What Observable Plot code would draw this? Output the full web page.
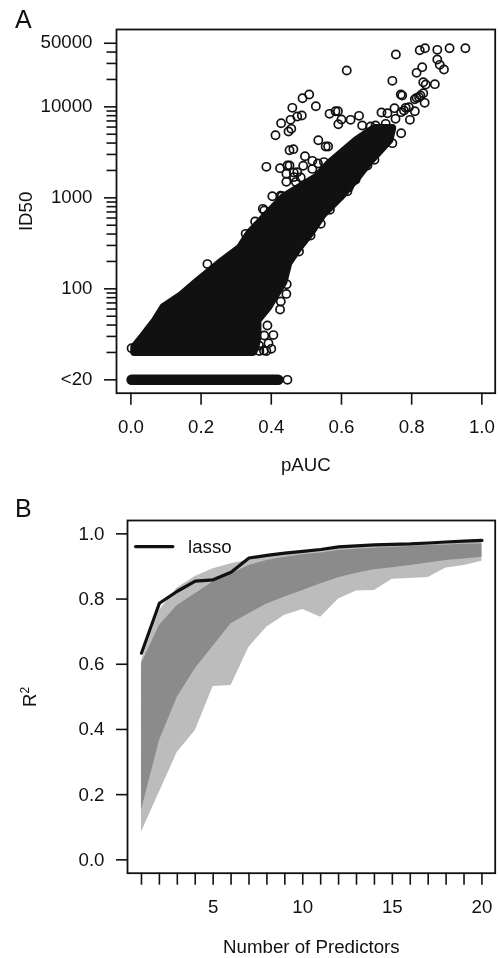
<!DOCTYPE html>
<html><head><meta charset="utf-8">
<script src="https://cdn.jsdelivr.net/npm/d3@7"></script>
<script src="https://cdn.jsdelivr.net/npm/@observablehq/plot@0.6"></script>
<style>
html,body{margin:0;padding:0;background:#fff;}
#page{position:relative;width:498px;height:958px;overflow:hidden;font-family:"Liberation Sans",Arial,sans-serif;color:#111;filter:blur(.35px);}
#page svg{position:absolute;left:0;}
.tag{position:absolute;font-size:25px;line-height:25px;}
</style></head><body>
<div id="page"><div class="tag" style="left:15px;top:7px">A</div><div class="tag" style="left:15px;top:496px">B</div></div>
<script>
// Panel A: individually visible points
const outlierPAUC = [.953,.908,.873,.838,.823,.755,.615,.873,.880,.892,.830,.814,.745,.833,.840,.866,.769,.773,.833,.825,.814,.809,.821,.837,
 .508,.489,.527,.460,.487,.474,.455,.428,.457,.449,.412,.566,.583,.590,.600,.591,.626,.650,.659,.683,.697,.714,.731,.751,.783,.778,.770,.792,.809,.795,.754,.726,.770,.745,
 .534,.555,.562,.452,.463,.496,.517,.550,.386,.425,.446,.452,.491,.443,.474,.517,.443,.465,.470,.403,.376,.380,.430,.354,.327,
 .640,.621,.617,.567,.541,.512,.674,.694,.218,.444,.443,.427,.425,.389,.406,.380,.392,.400,.386,.366,.002,.479,
 .533,.484,.464,.427,.379,.365];
const outlierID50 = [44130,44130,42310,44130,41950,37590,25080,33120,28940,25720,27290,23640,19310,18670,17600,17750,13660,13320,14130,13320,12560,12140,12770,11070,
 13660,12450,10170,9750,8030,7830,7200,6610,5730,5360,4880,8380,8960,8960,7260,6450,7200,7960,6230,6080,6230,8660,8520,9670,9750,9110,8740,9916,8960,7200,7380,6500,5130,3990,
 4300,3670,3670,3340,3430,2870,2550,2470,2190,2120,2270,2270,2250,1840,1910,2080,1500,1690,1490,1040,757,726,1040,549,402,
 1580,1310,1180,738,518,386,2270,2620,187,112.5,88,72.6,59.3,39.5,31,30.7,25.3,21.9,20.7,20.7,22.3,257,
 2382,1672,1897,1059,21,23.8];
// Envelope of the overplotted cloud of points
const cloudID50 = [5774,4262,2382,1672,1008,639,405,277,190,117,84.4,62.3,44.8,29.2,22.6,20];
const cloudLow  = [.695,.644,.567,.530,.436,.387,.339,.311,.254,.188,.145,.094,.071,.034,.011,.011];
const cloudHigh = [.746,.738,.678,.647,.598,.547,.513,.479,.450,.436,.413,.393,.362,.362,.356,.350];
// The "<20" row, drawn at 10
const censoredPAUC = [.002,.420];
const censoredLast = [.446];
const id50Major = [10,100,1000,10000,50000];
const id50Minor = [20,30,40,50,60,70,80,90,200,300,400,500,600,700,800,900,2000,3000,4000,5000,6000,7000,8000,9000,20000,30000,40000];
const pAUCTicks = [0,.2,.4,.6,.8,1];

// Panel B
const predictors = d3.range(1,21);
const lasso    = [.634,.787,.824,.855,.859,.882,.926,.934,.941,.946,.952,.960,.963,.966,.968,.969,.972,.975,.978,.980];
const lightTop = [.610,.765,.834,.869,.893,.908,.920,.932,.940,.945,.950,.957,.960,.963,.965,.966,.968,.970,.972,.975];
const lightLow = [.085,.207,.330,.396,.532,.535,.652,.714,.750,.768,.744,.800,.825,.826,.861,.863,.866,.895,.903,.916];
const darkTop  = [.601,.719,.780,.816,.852,.877,.903,.918,.928,.936,.941,.949,.953,.956,.959,.961,.964,.966,.968,.969];
const darkLow  = [.151,.365,.499,.586,.655,.724,.755,.785,.806,.826,.847,.865,.879,.890,.896,.903,.911,.918,.923,.928];
const predictorTicks = d3.range(1,21);
const r2Ticks = [0,.2,.4,.6,.8,1];

const ink = "#111";
const textSize = 18.7;
const font = {fontFamily:'"Liberation Sans",Arial,sans-serif',fontSize:textSize+"px",background:"none",color:ink};
const axisBits = {tickSize:12,strokeWidth:1.6,stroke:ink,fill:ink,fontSize:textSize};

const outliers = outlierPAUC.map((x,i)=>({x,y:outlierID50[i]}));
const cloud = cloudID50.map((y,i)=>({y,l:cloudLow[i],h:cloudHigh[i]}));

const A = Plot.plot({
  width:498,height:490,marginLeft:116,marginRight:3.3,marginTop:29,marginBottom:97.3,style:font,
  x:{domain:[-.041,1.038],label:null},
  y:{type:"log",domain:[7.13,70800],label:null},
  marks:[
    Plot.areaX(cloud,{y:"y",x1:"l",x2:"h",fill:ink,stroke:ink,strokeWidth:8,strokeLinejoin:"round"}),
    Plot.line(censoredPAUC.map(x=>({x,y:10})),{x:"x",y:"y",stroke:ink,strokeWidth:10.5,strokeLinecap:"round"}),
    Plot.dot(censoredLast.map(x=>({x,y:10})),{x:"x",y:"y",r:4.1,stroke:ink,strokeWidth:1.7,fill:"#fff"}),
    Plot.dot(outliers,{x:"x",y:"y",r:4.1,stroke:ink,strokeWidth:1.7,fill:"none"}),
    Plot.axisY({...axisBits,ticks:id50Minor,tickFormat:()=>"",tickSize:9.5,label:null}),
    Plot.axisY({...axisBits,ticks:id50Major,tickFormat:()=>"",label:"ID50",labelAnchor:"center",labelArrow:"none",labelOffset:98}),
    Plot.text(id50Major,{y:d=>d,text:d=>d===10?"<20":String(d),frameAnchor:"left",textAnchor:"end",dx:-24,dy:-1,fontSize:textSize,fill:ink}),
    Plot.axisX({...axisBits,ticks:pAUCTicks,tickFormat:d3.format(".1f"),tickPadding:15,label:"pAUC",labelAnchor:"center",labelArrow:"none",labelOffset:78}),
    Plot.frame({stroke:ink,strokeWidth:1.8})
  ]
});
A.style.top="0px";

const rows = predictors.map((x,i)=>({x,lasso:lasso[i],lt:lightTop[i],ll:lightLow[i],dt:darkTop[i],dl:darkLow[i]}));
const B = Plot.plot({
  width:498,height:468,marginLeft:127,marginRight:3.3,marginTop:30,marginBottom:85.3,style:font,
  x:{domain:[.22,20.74],label:null},
  y:{domain:[-.041,1.041],label:null},
  marks:[
    Plot.areaY(rows,{x:"x",y1:"ll",y2:"lt",fill:"#bcbcbc"}),
    Plot.areaY(rows,{x:"x",y1:"dl",y2:"dt",fill:"#8b8b8b"}),
    Plot.line(rows,{x:"x",y:"lasso",stroke:ink,strokeWidth:3.2}),
    Plot.line([{x:.67,y:.961},{x:2.75,y:.961}],{x:"x",y:"y",stroke:ink,strokeWidth:3.2}),
    Plot.text(["lasso"],{x:3.6,y:.961,textAnchor:"start",fontSize:textSize,fill:ink}),
    Plot.axisY({...axisBits,ticks:r2Ticks,tickSize:11,tickFormat:d3.format(".1f"),tickPadding:12,label:"R2",labelAnchor:"center",labelArrow:"none",labelOffset:105}),
    Plot.axisX({...axisBits,ticks:predictorTicks,tickFormat:d=>d%5===0?String(d):"",tickPadding:15,label:"Number of Predictors",labelAnchor:"center",labelArrow:"none",labelOffset:80}),
    Plot.frame({stroke:ink,strokeWidth:1.8})
  ]
});
B.style.top="490px";
// superscript in the y label of panel B
d3.select(B).selectAll("text").filter(function(){return this.textContent==="R2";}).each(function(){
  const t=d3.select(this); t.text("R");
  t.append("tspan").attr("dy","-7").attr("font-size","12").text("2");
});
const page=document.getElementById("page");
page.appendChild(A);page.appendChild(B);
</script></body></html>
